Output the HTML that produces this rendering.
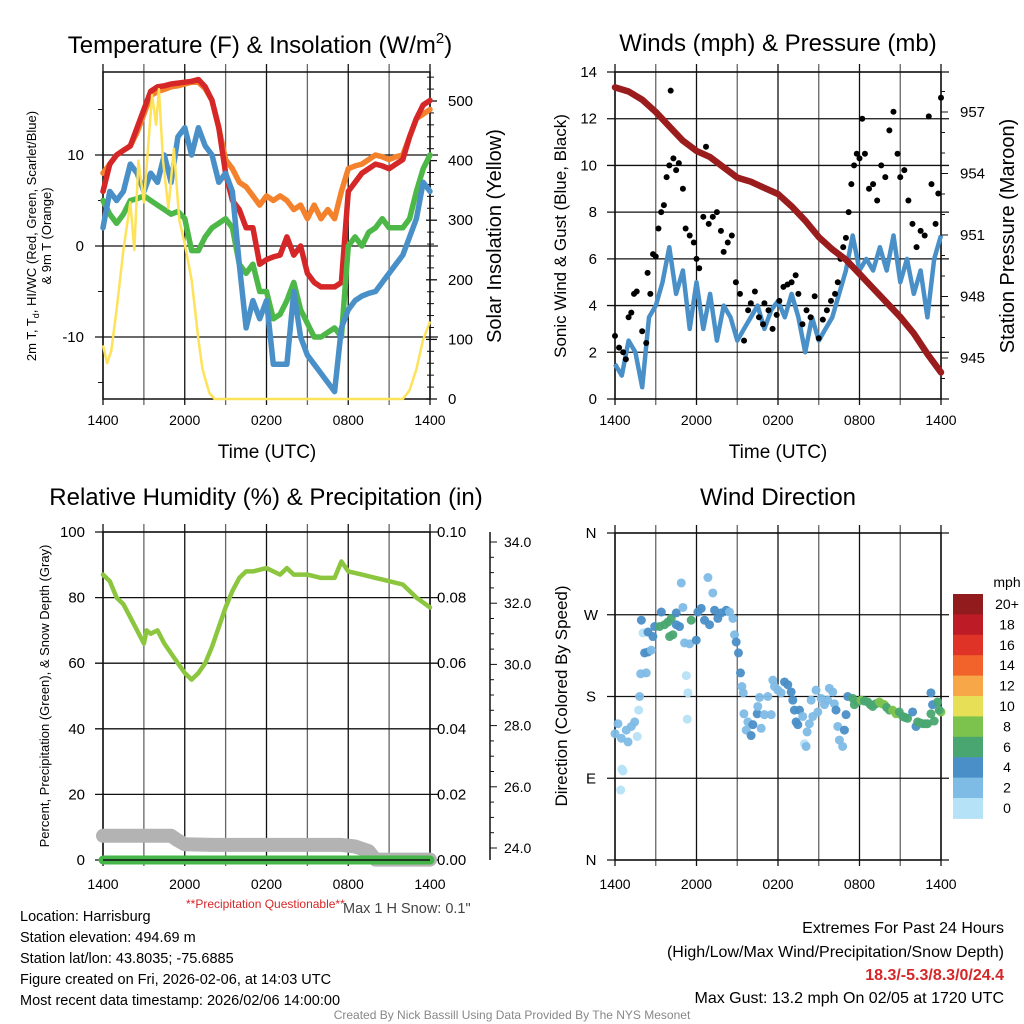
<!DOCTYPE html>
<html><head><meta charset="utf-8"><style>
body{margin:0;background:#fff;}
svg{display:block;font-family:"Liberation Sans",sans-serif;}
</style></head><body>
<svg id="c" width="1024" height="1024" viewBox="0 0 1024 1024"></svg>
<script>
// ---- Panel 1 data (hours since 14 UTC) ----
const tHours=[0,0.5,1,1.5,2,2.5,3,3.5,4,4.5,5,5.5,6,6.5,7,7.5,8,8.5,9,9.5,10,10.5,11,11.5,12,12.5,13,13.5,14,14.5,15,15.5,16,16.5,17,17.5,18,18.5,19,19.5,20,20.5,21,21.5,22,22.5,23,23.5,24];
const tempRed=[6,9,10,10.5,11,13,15,17,17.5,17.6,17.8,17.9,18,18.1,18.3,17.5,16,13,8,5,4,2,2,-2,-1.5,-1.2,-1,1,-1,0,-3,-4,-4.5,-4.5,-4.5,-4,6,7,8,8.5,9,8.8,8.5,9,9.5,12,14,15.5,16];
const tempOrange=[8,9,10,10.5,11,12.5,14.5,16.5,17,17.2,17.5,17.6,17.8,18,18,17.3,16,13,9.5,8.5,7,6.5,5.5,4.5,5.5,5,5.5,5,4,4.5,3,4.5,3,4,3,6,8.5,8.8,9,9.5,10,9.8,9.5,9.8,10,12,14,14.5,15];
const dewGreen=[5,3.5,2.5,3.5,5,5.2,5.5,5,4.5,4,3.5,3.8,3,-0.5,-0.5,1,2,2.5,3,2,-2,-3,-2,-5,-5,-8,-7.5,-6,-4,-7,-8.5,-10,-10,-9.5,-9,-10,0,1,0,1.5,2,3,2,2,2,3,6,8.5,10];
const wcBlue=[2,6,5,6,9,8,6,8,7,10,7,12,13,10,13,11,10,7,8,6,-2,-9,-6,-8,-6,-13,-13,-13,-5,-10,-12,-13,-14,-15,-16,-9,-7,-6,-5.5,-5.2,-5,-4,-3,-2,-1,1,3,7,6];
const solarHours=[0,0.3,0.6,1,1.5,2,2.3,2.6,3,3.3,3.6,3.9,4.1,4.4,4.8,5.2,5.6,6,6.5,7,7.3,7.8,8.2,22,22.5,23,23.5,24];
const solarVals=[90,60,80,150,250,330,250,400,330,420,510,460,520,400,320,420,300,260,200,100,50,10,0,0,15,50,100,130];
const p1LeftTicks=[-10,0,10];
const p1RightTicks=[0,100,200,300,400,500];
const timeTickLabels=["1400","2000","0200","0800","1400"];
const timeTickHours=[0,6,12,18,24];
// ---- Panel 2 data ----
const presHours=[0,1,2,3,4,5,6,7,8,9,10,11,12,13,14,15,16,17,18,19,20,21,22,23,24];
const pressure=[958.2,958.0,957.6,957.0,956.3,955.6,955.1,954.8,954.3,953.8,953.6,953.3,953.0,952.4,951.7,950.9,950.3,949.8,949.1,948.4,947.7,947.0,946.2,945.2,944.3];
const windHours=[0,0.5,1,1.5,2,2.5,3,3.5,4,4.5,5,5.5,6,6.5,7,7.5,8,8.5,9,9.5,10,10.5,11,11.5,12,12.5,13,13.5,14,14.5,15,15.5,16,16.5,17,17.5,18,18.5,19,19.5,20,20.5,21,21.5,22,22.5,23,23.5,24];
const windSpeed=[1.5,1,2.5,2,0.5,3.5,4,5,6.5,4.5,5.5,3,5,3,4.5,2.5,4,3.5,2.5,3,3.5,4,3,3.8,4.2,3.5,4.5,3.5,2,3.5,2.5,3,3.5,4.5,5.5,7,5.5,6,5.5,6.5,5.5,7,5,6,4.5,5.5,3.5,6,7];
const gustHours=[0,0.3,0.6,0.8,1,1.2,1.4,1.6,2,2.3,2.4,2.6,2.8,3,3.2,3.4,3.6,3.8,4,4.1,4.3,4.5,4.7,5,5.2,5.5,5.8,6,6.2,6.5,6.7,6.9,7.2,7.5,7.8,8,8.3,8.6,8.9,9.2,9.5,9.8,10,10.3,10.6,10.9,11,11.3,11.6,11.9,12.1,12.4,12.7,13,13.3,13.5,13.8,14.1,14.4,14.7,15,15.3,15.6,15.9,16.2,16.4,16.6,16.8,17,17.2,17.4,17.6,17.8,18,18.2,18.4,18.7,19,19.3,19.6,19.9,20.2,20.5,20.8,21,21.3,21.6,21.9,22.2,22.5,22.8,23.1,23.3,23.6,23.8,24];
const gustVals=[2.7,2.2,2.0,1.7,3.5,3.7,4.5,4.6,2.9,2.4,5.4,4.5,6.2,6.1,7.3,8.0,8.3,9.5,10.0,13.2,10.3,9.8,10.1,9.0,7.3,7.0,6.7,6.0,5.6,7.8,10.8,7.5,7.8,8.0,7.2,6.3,6.7,7.0,5.0,4.5,2.5,3.8,4.1,4.6,3.5,3.2,4.1,3.8,3.0,3.6,4.2,4.8,4.9,5.0,5.3,4.5,3.2,3.8,3.5,4.4,2.6,3.4,3.8,4.2,4.5,5.0,6.0,6.5,6.9,8.0,9.2,10.0,10.5,10.3,12.0,10.5,9.0,9.2,8.5,10.0,9.5,11.5,12.3,10.5,9.5,9.8,8.5,7.5,6.5,7.2,7.0,12.1,9.2,7.5,8.8,12.9];
const p2LeftTicks=[0,2,4,6,8,10,12,14];
const p2RightTicks=[945,948,951,954,957];
// ---- Panel 3 data ----
const rhHours=[0,0.5,1,1.5,2,2.5,3,3.2,3.5,4,4.5,5,5.5,6,6.5,7,7.5,8,8.5,9,9.5,10,10.5,11,12,13,13.5,14,15,16,17,17.5,18,19,20,21,22,23,24];
const rhVals=[87,85,80,78,74,70,66,70,69,70,66,63,60,57,55,57,60,65,71,77,82,86,88,88,89,87,89,87,87,86,86,91,88,87,86,85,84,80,77];
const snowHours=[0,2,4,5,5.5,6,8,10,12,14,16,17.5,18.5,19.5,20,24];
const snowDepth=[24.4,24.4,24.4,24.4,24.25,24.12,24.1,24.1,24.1,24.1,24.1,24.1,24.05,23.9,23.62,23.62];
const precipHours=[0,24];
const precipVals=[0,0];
const p3LeftTicks=[0,20,40,60,80,100];
const p3RightTicks=[0,0.02,0.04,0.06,0.08,0.10];
const snowTicks=[24,26,28,30,32,34];
// ---- Panel 4 data ----
const dirHours=[0,0.22,0.47,0.96,0.83,1.2,1.45,1.64,0.51,0.59,0.42,1.74,1.81,1.89,2.3,2.18,2.43,2.67,2.06,1.94,2.43,2.79,2.92,3.28,3.41,3.65,3.9,4.14,4.02,4.26,4.51,4.75,4.51,4.88,5.0,5.12,5.49,5.25,5.37,5.32,5.61,5.98,6.1,6.35,6.59,6.84,7.2,6.96,7.33,7.57,7.82,8.19,8.43,8.68,8.8,8.92,9.09,9.24,9.34,9.44,9.49,9.66,9.78,10.02,10.15,10.47,10.51,10.76,10.64,11.0,11.25,11.5,11.62,11.74,11.99,12.23,12.48,12.72,12.97,13.09,13.21,13.33,13.46,13.58,13.82,13.95,14.07,14.14,14.31,14.44,14.56,14.8,14.93,15.17,15.42,15.66,15.78,16.03,16.15,16.27,16.4,16.52,16.76,16.89,17.01,17.13,17.5,17.62,17.85,18.11,18.35,18.6,18.8,18.97,19.2,19.46,19.65,19.83,20.0,20.2,20.44,20.69,20.93,21.18,21.35,21.54,21.91,22.16,22.28,22.45,22.65,22.85,23.01,23.26,23.38,23.5,23.26,23.75,24.0,23.87];
const dirDeg=[139,150,134,130,143,147,152,136,100,98,77,165,180,205,206,228,229,231,250,264,251,246,257,257,273,259,262,266,246,248,259,257,272,305,278,239,238,203,184,155,264,242,273,277,264,311,294,259,275,266,272,275,273,266,248,240,228,206,191,184,161,143,152,137,149,161,169,145,179,160,180,160,198,191,187,184,196,193,185,176,165,152,149,165,158,128,125,141,150,176,158,187,163,178,171,176,189,185,172,165,147,132,125,143,160,180,178,171,174,176,175,174,171,169,172,174,172,171,168,165,165,161,163,158,157,156,163,147,152,151,150,150,150,184,171,153,161,174,163,165];
const dirSpeed=[3,3,3,3,3,3,3,1,1,1,1,1,3,3,3,5,5,3,1,5,5,5,5,7,5,7,7,7,7,7,5,5,5,3,3,3,3,1,1,1,7,5,5,5,5,3,3,5,5,5,5,5,3,3,3,5,5,5,3,3,3,3,3,5,5,5,3,3,3,3,3,3,3,3,3,3,5,5,5,5,5,5,5,5,3,1,3,3,3,3,3,3,3,3,3,3,3,3,3,5,3,3,3,5,5,5,7,7,7,9,7,7,7,7,7,9,9,9,7,7,9,9,7,7,7,7,5,5,7,7,7,7,7,5,5,7,7,7,9,7];
const dirTickLabels=["N","E","S","W","N"];
const dirTickVals=[0,90,180,270,360];
const cbLabels=["20+","18","16","14","12","10","8","6","4","2","0"];
const cbColors=["#921b1e","#bd1c26","#e03328","#f2622b","#f8a748","#e7e056","#7cc34e","#4aa671","#4a8fc7","#7ebbe5","#b6e2f8"];

const NS="http://www.w3.org/2000/svg";
const svg=document.getElementById('c');
function mk(tag,attrs,parent){const e=document.createElementNS(NS,tag);for(const k in attrs)e.setAttribute(k,attrs[k]);(parent||svg).appendChild(e);return e;}
function txt(s,x,y,size,anchor,fill,parent,extra){const e=mk('text',Object.assign({x:x,y:y,'font-size':size,'text-anchor':anchor||'middle',fill:fill||'#000'},extra||{}),parent);e.textContent=s;return e;}
function lin(d0,d1,r0,r1){return v=>r0+(v-d0)*(r1-r0)/(d1-d0);}
function pathD(xs,ys,fx,fy){return xs.map((h,i)=>(i?'L':'M')+fx(h).toFixed(1)+','+fy(ys[i]).toFixed(1)).join('');}

function frame(L,R,T,B,name){
  const g=mk('g',{});
  
  
  for(let h=0;h<=24;h+=3){const x=L+(R-L)*h/24;const l=mk('line',{x1:x,x2:x,y1:T-8,y2:B+6,stroke:(h%6==0)?'#111':'#666','stroke-width':1.3},g);
    
    }
  const r=mk('rect',{x:L,y:T,width:R-L,height:B-T,fill:'none',stroke:'#111','stroke-width':1.5},g);
  
  
  return g;
}
function hgrid(y,L,R,g){const l=mk('line',{x1:L-8,x2:R+8,y1:y,y2:y,stroke:'#111','stroke-width':1.3},g);
  
  }
function xlabels(L,R,y,g){timeTickHours.forEach((h,i)=>{const t=txt(timeTickLabels[i],L+(R-L)*h/24,y,14,'middle','#000',g);
  
  });}
function rotText(s,x,y,size,name){const t=txt(s,0,0,size,'middle','#000',svg,{transform:`translate(${x},${y}) rotate(-90)`});
  
  return t;}

// ===== Panel 1 =====
{const L=103,R=430,T=72,B=399;
 const fx=lin(0,24,L,R), fy=lin(0,10,246,155), fs=lin(0,500,399,101);
 const g=frame(L,R,T,B,'temperature-panel');
 p1LeftTicks.forEach(v=>{hgrid(fy(v),L,R,g);const t=txt(String(v),84,fy(v)+5,15,'end','#000',g);
   
   });
 [-15,-5,5,15].forEach(v=>mk('line',{x1:L-5,x2:L,y1:fy(v),y2:fy(v),stroke:'#111','stroke-width':1},g));
 p1RightTicks.forEach(v=>{const y=fs(v);mk('line',{x1:R-4,x2:R+7,y1:y,y2:y,stroke:'#111','stroke-width':1.3},g);
   const t=txt(String(v),448,y+5,15,'start','#000',g);
   
   });
 for(let v=20;v<560;v+=20){if(v%100)mk('line',{x1:R-3,x2:R+4,y1:fs(v),y2:fs(v),stroke:'#111','stroke-width':1},g);}
 xlabels(L,R,425,g);
 const series=[[tempOrange,'#f4812b','orange-9m-temp-line'],[tempRed,'#d62728','red-2m-temp-line'],[dewGreen,'#4db848','green-dewpoint-line'],[wcBlue,'#4a90c8','blue-windchill-line']];
 series.forEach(s=>{const p=mk('path',{d:pathD(tHours,s[0],fx,fy),fill:'none',stroke:s[1],'stroke-width':5.5,'stroke-linejoin':'round','stroke-linecap':'round'});
   
   });
 const sp=mk('path',{d:pathD(solarHours,solarVals,fx,fs),fill:'none',stroke:'#fde25a','stroke-width':2.5,'stroke-linejoin':'round'});
 
 
 const tt=txt('Temperature (F) & Insolation (W/m',260,53,24,'middle','#000');
 const sup=mk('tspan',{dy:-10,'font-size':15},tt);sup.textContent='2';
 const cl=mk('tspan',{dy:10},tt);cl.textContent=')';
 
 
 const xl=txt('Time (UTC)',267,458,19);
 
 
 const t1=rotText('2m T, T',36,236,13,'left-axis-title-line1');
 const sb=mk('tspan',{dy:3,'font-size':9},t1);sb.textContent='d';
 const rest=mk('tspan',{dy:-3},t1);rest.textContent=', HI/WC (Red, Green, Scarlet/Blue)';
 rotText('& 9m T (Orange)',51,236,13,'left-axis-title-line2');
 rotText('Solar Insolation (Yellow)',501,236,20,'right-axis-title');
}
// ===== Panel 2 =====
{const L=615,R=941,T=72,B=399;
 const fx=lin(0,24,L,R), fy=lin(0,14,399,72), fp=lin(945,957,358,112);
 const g=frame(L,R,T,B,'winds-panel');
 p2LeftTicks.forEach(v=>{hgrid(fy(v),L,R,g);const t=txt(String(v),597,fy(v)+5,15,'end','#000',g);
   
   });
 p2RightTicks.forEach(v=>{const t=txt(String(v),960,fp(v)+5,15,'start','#000',g);
   
   });
 for(let v=944;v<=958;v++)mk('line',{x1:R,x2:R+(v%3==0?7:4),y1:fp(v),y2:fp(v),stroke:'#111','stroke-width':1},g);
 xlabels(L,R,425,g);
 const wp=mk('path',{d:pathD(windHours,windSpeed,fx,fy),fill:'none',stroke:'#4a90c8','stroke-width':4.5,'stroke-linejoin':'round'});
 
 
 gustHours.forEach((h,i)=>{const c=mk('circle',{cx:fx(h),cy:fy(gustVals[i]),r:3,fill:'#000'});
   
   });
 const pp=mk('path',{d:pathD(presHours,pressure,fx,fp),fill:'none',stroke:'#9b1c1c','stroke-width':6.5,'stroke-linejoin':'round','stroke-linecap':'round'});
 
 
 const tt=txt('Winds (mph) & Pressure (mb)',778,51,24);
 
 
 const xl=txt('Time (UTC)',778,458,19);
 
 
 rotText('Sonic Wind & Gust (Blue, Black)',566,236,17,'left-axis-title');
 rotText('Station Pressure (Maroon)',1014,236,20,'right-axis-title');
}
// ===== Panel 3 =====
{const L=103,R=430,T=532,B=860;
 const fx=lin(0,24,L,R), fy=lin(0,100,860,532), fr=lin(0,0.1,860,532), fsn=lin(24,34,848,542);
 const g=frame(L,R,T,B,'humidity-panel');
 p3LeftTicks.forEach(v=>{hgrid(fy(v),L,R,g);const t=txt(String(v),85,fy(v)+5,15,'end','#000',g);
   
   });
 p3RightTicks.forEach(v=>{const t=txt(v.toFixed(2),437,fr(v)+5,15,'start','#000',g);
   
   });
 const ax=mk('line',{x1:490,x2:490,y1:532,y2:860,stroke:'#111','stroke-width':1.5},g);
 
 
 for(let v=24;v<=34.01;v+=0.5)mk('line',{x1:490,x2:490+(Math.abs(v-Math.round(v/2)*2)<0.01?7:4),y1:fsn(v),y2:fsn(v),stroke:'#111','stroke-width':1},g);
 snowTicks.forEach(v=>{const t=txt(v.toFixed(1),504,fsn(v)+5,14,'start','#000',g);
   
   });
 xlabels(L,R,889,g);
 const sn=mk('path',{d:pathD(snowHours,snowDepth,fx,fsn),fill:'none',stroke:'#b3b3b3','stroke-width':14,'stroke-linejoin':'round','stroke-linecap':'round'});
 
 
 const pr=mk('path',{d:pathD(precipHours,precipVals,fx,fr),fill:'none',stroke:'#45b549','stroke-width':9,'stroke-linecap':'round'});
 
 
 mk('line',{x1:L,x2:R,y1:B,y2:B,stroke:'#111','stroke-width':1.5});
 const rh=mk('path',{d:pathD(rhHours,rhVals,fx,fy),fill:'none',stroke:'#8cc63f','stroke-width':4.5,'stroke-linejoin':'round','stroke-linecap':'round'});
 
 
 const tt=txt('Relative Humidity (%) & Precipitation (in)',266,505,24);
 
 
 rotText('Percent, Precipitation (Green), & Snow Depth (Gray)',49,696,13,'left-axis-title');
}
// ===== Panel 4 =====
{const L=615,R=941,T=533,B=860;
 const fx=lin(0,24,L,R), fy=lin(0,360,860,533);
 const g=frame(L,R,T,B,'wind-direction-panel');
 dirTickVals.forEach((v,i)=>{hgrid(fy(v),L,R,g);const t=txt(dirTickLabels[i],591,fy(v)+5,15,'middle','#000',g);
   
   });
 xlabels(L,R,889,g);
 function col(s){const idx=Math.min(10,Math.floor(s/2));return cbColors[10-idx];}
 dirHours.forEach((h,i)=>{const c=mk('circle',{cx:fx(h),cy:fy(dirDeg[i]),r:4.5,fill:col(dirSpeed[i]),'fill-opacity':0.95});
   
   });
 const tt=txt('Wind Direction',778,505,24);
 
 
 rotText('Direction (Colored By Speed)',567,696,17,'left-axis-title');
 const cb=mk('g',{});
 
 
 cbColors.forEach((c,i)=>{const y=594+i*20.4;const r=mk('rect',{x:953,y:y,width:30,height:20.9,fill:c},cb);
   
   
   const t=txt(cbLabels[i],1007,y+15,14,'middle','#000',cb);
   
   });
 const u=txt('mph',1007,587,14,'middle','#000',cb);
 
 
}
// ===== Footer text =====
{const lines=[['Location: Harrisburg',921],['Station elevation: 494.69 m',942],['Station lat/lon: 43.8035; -75.6885',963],['Figure created on Fri, 2026-02-06, at 14:03 UTC',984],['Most recent data timestamp: 2026/02/06 14:00:00',1005]];
 lines.forEach(l=>{const t=txt(l[0],20,l[1],14.5,'start');
   
   });
 const pq=txt('**Precipitation Questionable**',186,908,12,'start','#d62728');
 
 
 const ms=txt('Max 1 H Snow: 0.1"',343,913,14.5,'start','#444');
 
 
 const rl=[['Extremes For Past 24 Hours',933,'#000','normal'],['(High/Low/Max Wind/Precipitation/Snow Depth)',957,'#000','normal'],['18.3/-5.3/8.3/0/24.4',980,'#d62728','bold'],['Max Gust: 13.2 mph On 02/05 at 1720 UTC',1003,'#000','normal']];
 rl.forEach(l=>{const t=txt(l[0],1004,l[1],16,'end',l[2],svg,{'font-weight':l[3]});
   
   });
 const cr=txt('Created By Nick Bassill Using Data Provided By The NYS Mesonet',512,1019,12,'middle','#888');
 
 
}
</script>
</body></html>
